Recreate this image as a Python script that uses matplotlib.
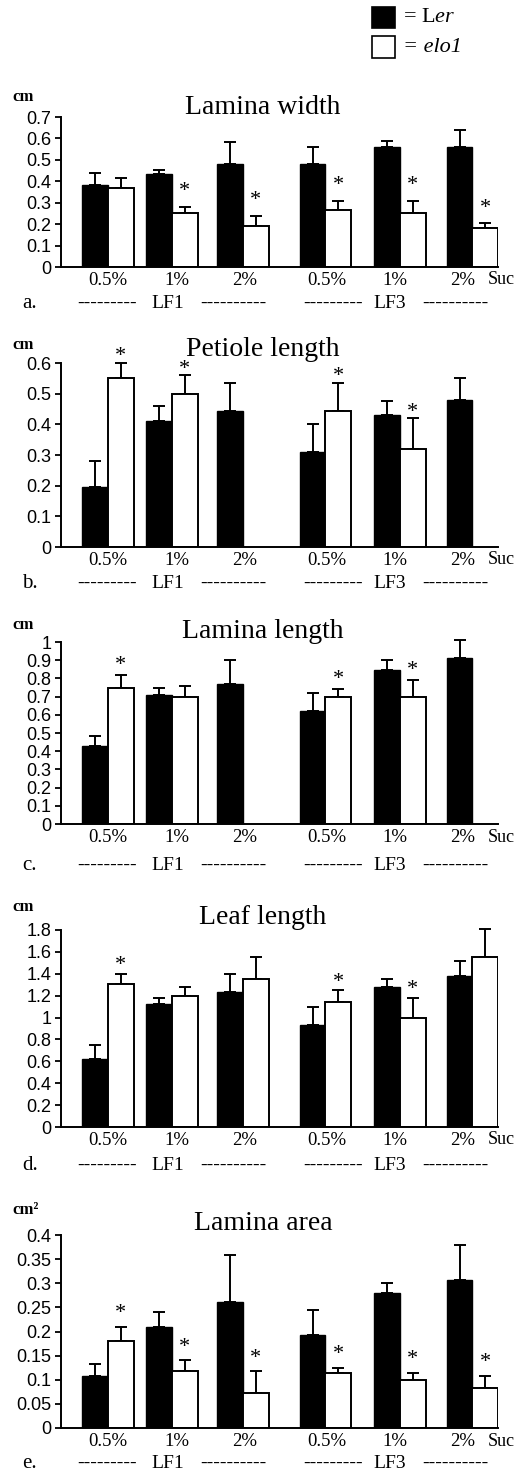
import numpy as np
import matplotlib
matplotlib.use("Agg")
import matplotlib.pyplot as plt

plt.rcParams['mathtext.fontset'] = 'custom'
plt.rcParams['mathtext.rm'] = 'Liberation Serif'
plt.rcParams['mathtext.it'] = 'Liberation Serif:italic'

# ---------------- data ----------------
sucrose_labels = ["0.5%", "1%", "2%", "0.5%", "1%", "2%"]
titles = ["Lamina width", "Petiole length", "Lamina length", "Leaf length", "Lamina area"]
units = ["cm", "cm", "cm", "cm", "cm²"]
panel_letters = ["a.", "b.", "c.", "d.", "e."]
ymax = [0.7, 0.6, 1.0, 1.8, 0.4]
ystep = [0.1, 0.1, 0.1, 0.2, 0.05]

nan = np.nan
ler_a = [0.385, 0.435, 0.48, 0.48, 0.56, 0.56]
ler_a_err = [0.055, 0.02, 0.105, 0.08, 0.03, 0.08]
elo_a = [0.37, 0.25, 0.19, 0.265, 0.25, 0.18]
elo_a_err = [0.045, 0.03, 0.05, 0.045, 0.06, 0.025]
star_a = [0, 1, 1, 1, 1, 1]

ler_b = [0.195, 0.41, 0.445, 0.31, 0.43, 0.48]
ler_b_err = [0.085, 0.05, 0.09, 0.09, 0.045, 0.07]
elo_b = [0.55, 0.50, nan, 0.445, 0.32, nan]
elo_b_err = [0.05, 0.06, nan, 0.09, 0.10, nan]
star_b = [1, 1, 0, 1, 1, 0]

ler_c = [0.43, 0.71, 0.77, 0.62, 0.845, 0.91]
ler_c_err = [0.055, 0.04, 0.13, 0.10, 0.055, 0.10]
elo_c = [0.75, 0.70, nan, 0.70, 0.70, nan]
elo_c_err = [0.07, 0.06, nan, 0.04, 0.09, nan]
star_c = [1, 0, 0, 1, 1, 0]

ler_d = [0.62, 1.12, 1.23, 0.93, 1.28, 1.38]
ler_d_err = [0.13, 0.06, 0.17, 0.17, 0.07, 0.14]
elo_d = [1.31, 1.20, 1.35, 1.14, 1.00, 1.55]
elo_d_err = [0.09, 0.08, 0.20, 0.11, 0.18, 0.26]
star_d = [1, 0, 0, 1, 1, 0]

ler_e = [0.107, 0.21, 0.262, 0.192, 0.28, 0.307]
ler_e_err = [0.026, 0.03, 0.096, 0.053, 0.02, 0.073]
elo_e = [0.18, 0.118, 0.072, 0.115, 0.10, 0.082]
elo_e_err = [0.03, 0.022, 0.046, 0.01, 0.015, 0.026]
star_e = [1, 1, 1, 1, 1, 1]

panels = [
    (ler_a, ler_a_err, elo_a, elo_a_err, star_a),
    (ler_b, ler_b_err, elo_b, elo_b_err, star_b),
    (ler_c, ler_c_err, elo_c, elo_c_err, star_c),
    (ler_d, ler_d_err, elo_d, elo_d_err, star_d),
    (ler_e, ler_e_err, elo_e, elo_e_err, star_e),
]

# ---------------- layout ----------------
W, H = 516, 1472
fig = plt.figure(figsize=(W / 100, H / 100), dpi=100)
fig.patch.set_facecolor("white")

def fx(px):
    return px / W

def fy(py):
    return 1 - py / H

# axes pixel boxes: (top, bottom)
boxes = [(117, 267), (363, 547), (642, 824), (930, 1127), (1235, 1428)]
title_y = [108, 349, 632, 917, 1223]
unit_y = [97, 345, 625, 907, 1210]
row_y = [303, 583, 865, 1165, 1463]
star_off = [4.0, -2.5, 0.0, -1.0, 2.5]
AX_L, AX_R = 61, 498

group_x = np.array([0.0, 0.90, 1.90, 3.06, 4.11, 5.13])
label_x = np.array([0.0, 0.97, 1.93, 3.08, 4.04, 4.99])
bw = 0.36
serif = "Liberation Serif"
sans = "Liberation Sans"

for i, ((ler, ler_err, elo, elo_err, stars), (top, bot)) in enumerate(zip(panels, boxes)):
    ax = fig.add_axes([fx(AX_L), fy(bot), fx(AX_R - AX_L), (bot - top) / H])
    ler = np.array(ler, float); ler_err = np.array(ler_err, float)
    elo = np.array(elo, float); elo_err = np.array(elo_err, float)

    xb = group_x - bw / 2
    xw = group_x + bw / 2
    ax.bar(xb, ler, width=bw, color="black", edgecolor="black", linewidth=1.0, zorder=2)
    eb1 = ax.errorbar(xb, ler, yerr=[np.zeros_like(ler_err), ler_err], fmt="none",
                      ecolor="black", elinewidth=1.4, capsize=4.5, capthick=1.4, zorder=1)
    okw = ~np.isnan(elo)
    ax.bar(xw[okw], elo[okw], width=bw, color="white", edgecolor="black", linewidth=1.4, zorder=2)
    eb2 = ax.errorbar(xw[okw], elo[okw], yerr=[np.zeros(okw.sum()), elo_err[okw]], fmt="none",
                      ecolor="black", elinewidth=1.4, capsize=4.5, capthick=1.4, zorder=1)
    for eb in (eb1, eb2):
        for art in eb.lines[1] + eb.lines[2]:
            art.set_clip_on(False)
    for k in range(6):
        if stars[k] and okw[k]:
            ax.annotate("*", (xw[k], elo[k] + elo_err[k]), xytext=(0, star_off[i]),
                        textcoords="offset points", ha="center", va="bottom",
                        fontsize=16, family=serif)

    ax.set_xlim(-0.662, 5.49)
    ax.set_ylim(0, ymax[i])
    ticks = np.arange(0, ymax[i] + ystep[i] / 2, ystep[i])
    ax.set_yticks(ticks)
    ax.set_yticklabels([("%g" % t) for t in ticks], family=sans, fontsize=13)
    ax.tick_params(axis="y", direction="out", length=4, width=1.3, pad=3)
    ax.set_xticks([])
    for s in ["top", "right"]:
        ax.spines[s].set_visible(False)
    for s in ["left", "bottom"]:
        ax.spines[s].set_linewidth(1.4)
    ax.patch.set_alpha(0)

    # sucrose tick labels
    for k in range(6):
        ax.annotate(sucrose_labels[k], (label_x[k], 0), xycoords=("data", "axes fraction"),
                    xytext=(0, -9.5), textcoords="offset points", ha="center", va="center",
                    family=serif, fontsize=13.5)
    # Suc label
    fig.text(fx(488), fy(bot + 13), "Suc", family=serif, fontsize=13, ha="left", va="center")
    # title
    fig.text(fx(263), fy(title_y[i]), titles[i], family=serif, fontsize=20, ha="center", va="center")
    # unit
    fig.text(fx(12), fy(unit_y[i]), units[i], family=serif, fontsize=12, weight="bold",
             ha="left", va="center")
    # leaf-row line
    rowy = row_y[i]
    fig.text(fx(22), fy(rowy), panel_letters[i], family=serif, fontsize=15, ha="left", va="center")
    fig.text(fx(77), fy(rowy), "---------", family=serif, fontsize=14, ha="left", va="center")
    fig.text(fx(168), fy(rowy), "LF1", family=serif, fontsize=14, ha="center", va="center")
    fig.text(fx(200), fy(rowy), "----------", family=serif, fontsize=14, ha="left", va="center")
    fig.text(fx(303), fy(rowy), "---------", family=serif, fontsize=14, ha="left", va="center")
    fig.text(fx(390), fy(rowy), "LF3", family=serif, fontsize=14, ha="center", va="center")
    fig.text(fx(422), fy(rowy), "----------", family=serif, fontsize=14, ha="left", va="center")

# legend
lax = fig.add_axes([0, 0, 1, 1])
lax.set_xlim(0, W); lax.set_ylim(H, 0); lax.axis("off")
lax.add_patch(plt.Rectangle((372, 7), 23, 21, facecolor="black", edgecolor="black", lw=1.2))
lax.add_patch(plt.Rectangle((372, 36), 23, 22, facecolor="white", edgecolor="black", lw=1.2))
lax.text(403, 18, r"= L$\it{er}$", family=serif, fontsize=16, ha="left", va="center")
lax.text(403, 47, "= elo1", family=serif, style="italic", fontsize=16, ha="left", va="center")

fig.savefig("out.png", dpi=100, facecolor="white")
